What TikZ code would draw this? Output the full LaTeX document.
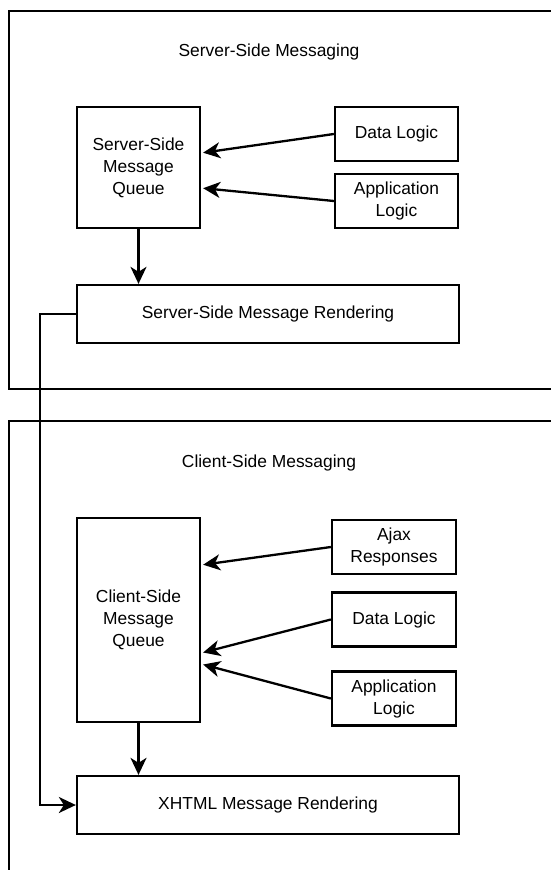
\documentclass[tikz,border=0pt]{standalone}
\usepackage{fontspec}
\setmainfont{Liberation Sans}
\usepackage{tikz}
\usetikzlibrary{arrows.meta,calc}
\newcommand{\lbl}{\fontsize{17.4}{22}\selectfont}

\begin{document}
\begin{tikzpicture}[x=1pt,y=-1pt,line width=2.3pt,
	arr/.style={-{Stealth[length=17pt,width=16pt,inset=5pt]}},
	box/.style={draw,align=center,inner sep=0pt,font=\lbl}]
	\useasboundingbox (0,0) rectangle (551,870);
	\clip (0,0) rectangle (551,870);
	% frames
	\draw (9,11) rectangle (570,389);
	\draw (9,421) rectangle (570,890);
	\node[font=\lbl] (stitle) at (269,52) {Server-Side Messaging};
	\node[font=\lbl] (ctitle) at (269,463) {Client-Side Messaging};
	% server side
	\node[box,minimum width=123pt,minimum height=121pt] (squeue) at (138.5,167.5) {Server-Side\\Message\\Queue};
	\node[box,minimum width=123pt,minimum height=54pt] (sdata) at (396.5,134) {Data Logic};
	\node[box,minimum width=123pt,minimum height=54pt] (sapp) at (396.5,201) {Application\\Logic};
	\node[box,minimum width=382pt,minimum height=58pt] (srender) at (268,314) {Server-Side Message Rendering};
	%
	\draw [arr,shorten >=2pt] (sdata.west) to ([yshift=14.5pt]squeue.east);
	\draw [arr,shorten >=2pt] (sapp.west) to ([yshift=-20.5pt]squeue.east);
	\draw [arr] (squeue.south) to (squeue.south |- srender.north);
	% client side
	\node[box,minimum width=123pt,minimum height=204pt] (cqueue) at (138.5,620) {Client-Side\\Message\\Queue};
	\node[box,minimum width=124pt,minimum height=54pt] (cajax) at (394,547) {Ajax\\Responses};
	\node[box,minimum width=124pt,minimum height=54pt] (cdata) at (394,619.5) {Data Logic};
	\node[box,minimum width=124pt,minimum height=54pt] (capp) at (394,698.5) {Application\\Logic};
	\node[box,minimum width=382pt,minimum height=58pt] (crender) at (268,805) {XHTML Message Rendering};
	%
	\draw [arr,shorten >=2pt] (cajax.west) to ([yshift=55pt]cqueue.east);
	\draw [arr,shorten >=2pt] (cdata.west) to ([yshift=-33pt]cqueue.east);
	\draw [arr,shorten >=2pt] (capp.west) to ([yshift=-44pt]cqueue.east);
	\draw [arr] (cqueue.south) to (cqueue.south |- crender.north);
	% server rendering to xhtml
	\draw [arr] (srender.west) -- ++(-36,0) |- (crender.west);
\end{tikzpicture}
\end{document}
